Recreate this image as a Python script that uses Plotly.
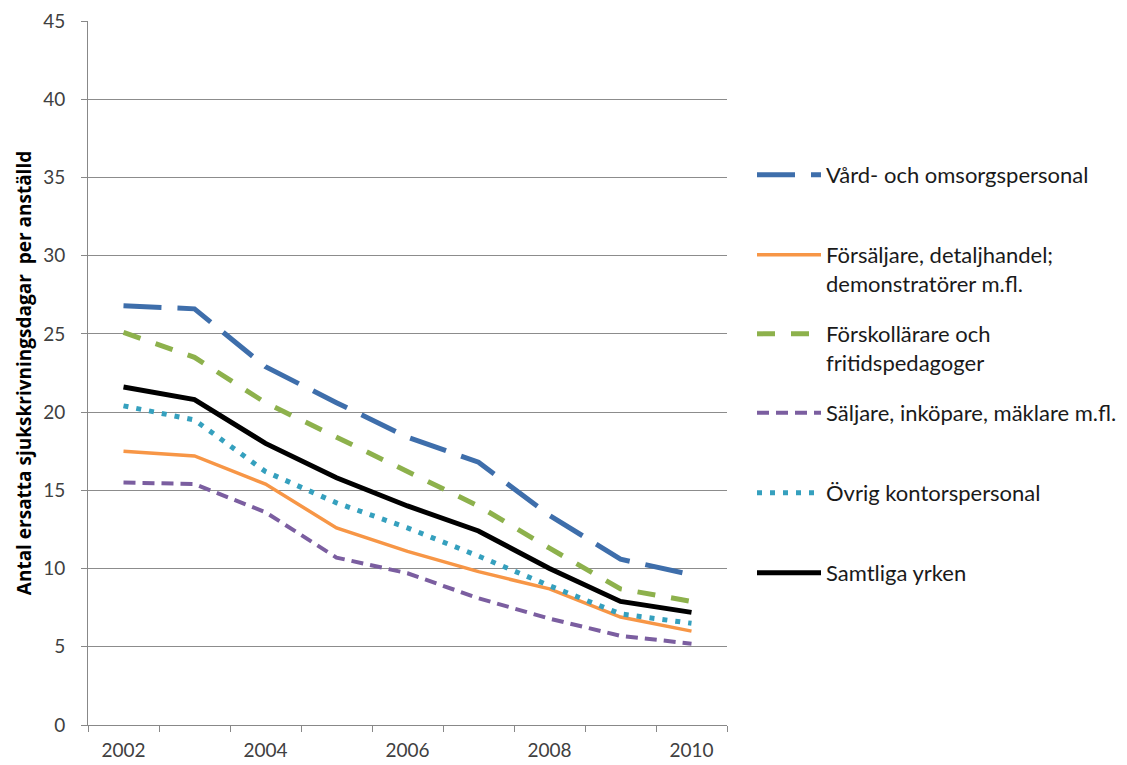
import plotly.graph_objects as go

years = [2002, 2003, 2004, 2005, 2006, 2007, 2008, 2009, 2010]
year_labels = ["2002", "2004", "2006", "2008", "2010"]

vard = [26.8, 26.6, 22.9, 20.6, 18.4, 16.8, 13.4, 10.6, 9.6]
forsaljare = [17.5, 17.2, 15.4, 12.6, 11.1, 9.8, 8.7, 6.9, 6.0]
forskollarare = [25.1, 23.5, 20.6, 18.4, 16.2, 14.0, 11.3, 8.7, 7.9]
saljare = [15.5, 15.4, 13.6, 10.7, 9.7, 8.1, 6.8, 5.7, 5.2]
ovrig = [20.4, 19.5, 16.2, 14.2, 12.6, 10.8, 8.9, 7.1, 6.5]
samtliga = [21.6, 20.8, 18.0, 15.8, 14.0, 12.4, 10.0, 7.9, 7.2]

series = [
    ("Vård- och omsorgspersonal", vard, "#3E6EAB", 5, "38px,16px"),
    ("Försäljare, detaljhandel;<br>demonstratörer m.fl.", forsaljare, "#F79646", 3.5, "solid"),
    ("Förskollärare och<br>fritidspedagoger", forskollarare, "#8DB14C", 5, "18px,16px"),
    ("Säljare, inköpare, mäklare m.fl.", saljare, "#7B5EA0", 4, "12px,7px"),
    ("Övrig kontorspersonal", ovrig, "#35A0BE", 5, "5px,8px"),
    ("Samtliga yrken", samtliga, "#000000", 5, "solid"),
]

# the page puts the figure 8px in from the top-left corner
OFF = 8
W, H = 1127 - OFF, 765 - OFF

# target positions in screenshot pixels
legend_px = [176, 256, 335, 414, 494, 574]
plot_top, plot_bottom, plot_left, plot_right = 21, 725, 88, 727

font_family = "Lato, 'Open Sans', sans-serif"

fig = go.Figure()
layout_legends = {}
for i, (name, vals, color, width, dash) in enumerate(series):
    key = "legend" if i == 0 else f"legend{i + 1}"
    fig.add_trace(go.Scatter(
        x=years,
        y=vals,
        mode="lines",
        name=name,
        legend=key,
        line=dict(color=color, width=width, dash=dash),
    ))
    py = legend_px[i] - 22
    layout_legends[key] = dict(
        x=(752 - plot_left) / (plot_right - plot_left),
        y=(plot_bottom - py) / (plot_bottom - plot_top),
        xanchor="left",
        yanchor="top",
        valign="top",
        itemwidth=64,
        bgcolor="rgba(0,0,0,0)",
        font=dict(family=font_family, size=22, color="#1a1a1a"),
    )

boundaries = [y - 0.5 for y in years] + [years[-1] + 0.5]

fig.update_layout(
    width=W,
    height=H,
    margin=dict(l=plot_left - OFF, r=1127 - plot_right, t=plot_top - OFF, b=765 - plot_bottom, autoexpand=False),
    paper_bgcolor="white",
    plot_bgcolor="white",
    font=dict(family=font_family, size=18, color="#404040"),
    showlegend=True,
    xaxis=dict(
        range=[years[0] - 0.5, years[-1] + 0.5],
        tickvals=[int(v) for v in year_labels],
        ticktext=year_labels,
        ticks="",
        ticklabelstandoff=8,
        showgrid=False,
        showline=True,
        linecolor="#888888",
        linewidth=1,
        zeroline=False,
        minor=dict(tickvals=boundaries, ticks="outside", ticklen=6, tickcolor="#888888", showgrid=False),
        tickfont=dict(size=19, color="#404040"),
    ),
    yaxis=dict(
        range=[0, 45],
        dtick=5,
        showgrid=True,
        gridcolor="#8c8c8c",
        gridwidth=1,
        showline=True,
        linecolor="#888888",
        linewidth=1,
        zeroline=False,
        ticks="outside",
        ticklen=6,
        tickcolor="#888888",
        ticklabelstandoff=12,
        tickfont=dict(size=19, color="#404040"),
        title=dict(
            text="<b>Antal ersatta sjukskrivningsdagar  per anställd</b>",
            font=dict(family="'Open Sans', Lato, sans-serif", size=19, color="#000000"),
            standoff=6,
        ),
    ),
    **layout_legends,
)

fig.write_html("out.html")
